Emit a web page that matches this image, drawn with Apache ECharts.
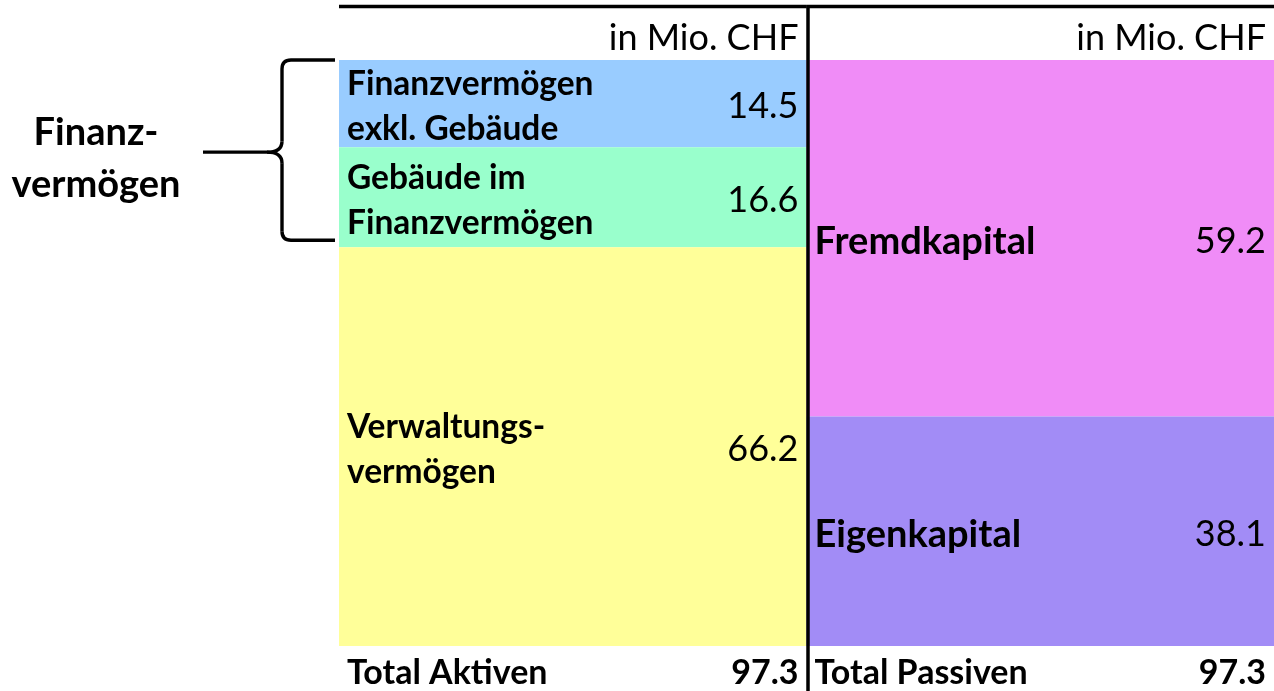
<!DOCTYPE html>
<html>
<head>
<meta charset="utf-8">
<script src="https://cdn.jsdelivr.net/npm/echarts@6/dist/echarts.min.js"></script>
<style>
  html, body { margin: 0; padding: 0; background: #ffffff; }
  #chart { width: 1274px; height: 691px; }
</style>
</head>
<body>
<div id="chart"></div>
<script>
// ---- data ----
const categories = ['Aktiven', 'Passiven'];
const headerLabels = ['in Mio. CHF', 'in Mio. CHF'];
const totalLabels = ['Total Aktiven', 'Total Passiven'];
const totals = [97.3, 97.3];
const aktivenNames = ['Finanzvermögen\nexkl. Gebäude', 'Gebäude im\nFinanzvermögen', 'Verwaltungs-\nvermögen'];
const aktivenValues = [14.5, 16.6, 66.2];
const passivenNames = ['Fremdkapital', 'Eigenkapital'];
const passivenValues = [59.2, 38.1];
const braceLabel = 'Finanz-\nvermögen';
const braceGroup = [0, 1]; // indices of aktiven segments covered by the brace

// ---- styles ----
const aktivenColors = ['#99CCFF', '#99FFCC', '#FFFF99'];
const passivenColors = ['#F08CF7', '#A28CF6'];
const FONT = 'Lato, "Noto Sans", sans-serif';
const labelFont = ['bold 33.5px ' + FONT, 'bold 38px ' + FONT];
const valueFont = '36px ' + FONT;
const totalFont = 'bold 34px ' + FONT;

// stack segments from the top down
function buildSegments(cat, values, names, colors) {
  let hi = totals[cat];
  return values.map((v, i) => {
    const item = { value: [cat, hi - v, hi, v], name: names[i], color: colors[i] };
    hi -= v;
    return item;
  });
}
const segments = buildSegments(0, aktivenValues, aktivenNames, aktivenColors)
  .concat(buildSegments(1, passivenValues, passivenNames, passivenColors));

const chart = echarts.init(document.getElementById('chart'), null, { renderer: 'canvas' });

const option = {
  animation: false,
  backgroundColor: '#ffffff',
  grid: { left: 339, right: 0, top: 60, bottom: 45 },
  xAxis: { type: 'category', data: categories, show: false, boundaryGap: true },
  yAxis: { type: 'value', min: 0, max: totals[0], show: false },
  series: [
    {
      type: 'custom',
      name: 'segments',
      encode: { x: 0, y: [1, 2] },
      data: segments.map(s => s.value),
      renderItem: function (params, api) {
        const seg = segments[params.dataIndex];
        const cat = api.value(0), lo = api.value(1), hi = api.value(2), v = api.value(3);
        const pTop = api.coord([cat, hi]);
        const pBot = api.coord([cat, lo]);
        const w = api.size([1, 0])[0];
        const x0 = pTop[0] - w / 2;
        const cy = (pTop[1] + pBot[1]) / 2;
        return {
          type: 'group',
          children: [
            { type: 'rect', shape: { x: x0, y: pTop[1], width: w, height: pBot[1] - pTop[1] },
              style: { fill: seg.color } },
            { type: 'text', style: { text: seg.name, x: x0 + 8, y: cy + 3, align: 'left', verticalAlign: 'middle',
              font: labelFont[cat], lineHeight: 45, fill: '#000' } },
            { type: 'text', style: { text: v.toFixed(1), x: x0 + w - 8, y: cy + 3, align: 'right', verticalAlign: 'middle',
              font: valueFont, fill: '#000' } }
          ]
        };
      }
    },
    {
      type: 'custom',
      name: 'frame',
      encode: { x: 0, y: 1 },
      data: categories.map((c, i) => [i, totals[i]]),
      z: 5,
      renderItem: function (params, api) {
        const cat = api.value(0), tot = api.value(1);
        const pTop = api.coord([cat, tot]);
        const pBot = api.coord([cat, 0]);
        const w = api.size([1, 0])[0];
        const x0 = pTop[0] - w / 2;
        const children = [
          { type: 'text', style: { text: headerLabels[cat], x: x0 + w - 8, y: pTop[1] - 22, align: 'right', verticalAlign: 'middle',
            font: valueFont, fill: '#000' } },
          { type: 'text', style: { text: totalLabels[cat], x: x0 + 8, y: pBot[1] + 27, align: 'left', verticalAlign: 'middle',
            font: totalFont, fill: '#000' } },
          { type: 'text', style: { text: tot.toFixed(1), x: x0 + w - 8, y: pBot[1] + 27, align: 'right', verticalAlign: 'middle',
            font: totalFont, fill: '#000' } },
          { type: 'line', shape: { x1: x0, y1: pTop[1] - 53.5, x2: x0 + w, y2: pTop[1] - 53.5 },
            style: { stroke: '#000', lineWidth: 3.5 } }
        ];
        if (cat > 0) {
          children.push({ type: 'line', shape: { x1: x0 + 1.5, y1: pTop[1] - 55, x2: x0 + 1.5, y2: api.getHeight() },
            style: { stroke: '#000', lineWidth: 3.5 } });
        }
        return { type: 'group', children: children };
      }
    },
    {
      type: 'custom',
      name: 'brace',
      encode: { x: 0, y: [1, 2] },
      data: [[0, totals[0] - braceGroup.reduce((s, i) => s + aktivenValues[i], 0), totals[0]]],
      renderItem: function (params, api) {
        const cat = api.value(0);
        const pTop = api.coord([cat, api.value(2)]);
        const pBot = api.coord([cat, api.value(1)]);
        const w = api.size([1, 0])[0];
        const L = pTop[0] - w / 2;
        const T = pTop[1], B = pBot[1] - 7, M = (T + B) / 2 + 2;
        const xr = L - 4, xv = L - 57, xt = L - 72, xs = L - 136;
        const st = { stroke: '#000', lineWidth: 3.4, fill: null };
        return {
          type: 'group',
          children: [
            { type: 'line', shape: { x1: xr, y1: T, x2: xv + 9, y2: T }, style: st },
            { type: 'bezierCurve', shape: { x1: xv + 9, y1: T, cpx1: xv, cpy1: T, x2: xv, y2: T + 9 }, style: st },
            { type: 'line', shape: { x1: xv, y1: T + 9, x2: xv, y2: M - 11 }, style: st },
            { type: 'bezierCurve', shape: { x1: xv, y1: M - 11, cpx1: xv, cpy1: M, x2: xt, y2: M }, style: st },
            { type: 'bezierCurve', shape: { x1: xt, y1: M, cpx1: xv, cpy1: M, x2: xv, y2: M + 11 }, style: st },
            { type: 'line', shape: { x1: xv, y1: M + 11, x2: xv, y2: B - 9 }, style: st },
            { type: 'bezierCurve', shape: { x1: xv, y1: B - 9, cpx1: xv, cpy1: B, x2: xv + 9, y2: B }, style: st },
            { type: 'line', shape: { x1: xv + 9, y1: B, x2: xr, y2: B }, style: st },
            { type: 'line', shape: { x1: xs, y1: M, x2: xt, y2: M }, style: st },
            { type: 'text', style: { text: braceLabel, x: L - 243, y: M + 7, align: 'center', verticalAlign: 'middle',
              font: 'bold 38px ' + FONT, lineHeight: 52, fill: '#000' } }
          ]
        };
      }
    }
  ]
};
chart.setOption(option);
</script>
</body>
</html>
